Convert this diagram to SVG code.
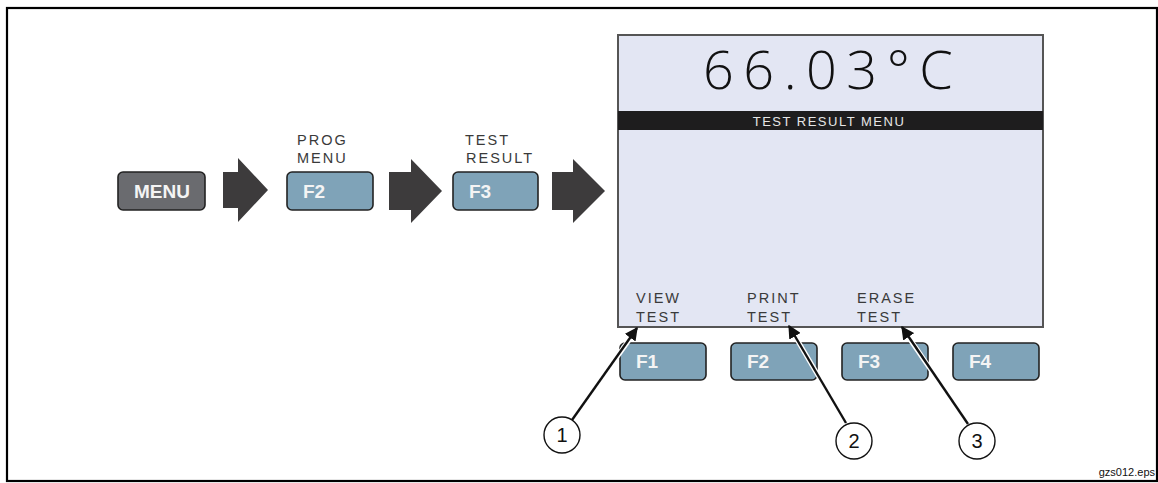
<svg xmlns="http://www.w3.org/2000/svg" width="1158" height="483" viewBox="0 0 1158 483">
<defs>
<style>
.frame{fill:none;stroke:#000;stroke-width:2.2}
.arrow{fill:#3d3b3c}
.key{stroke:#222;stroke-width:1.6}
.keyb{fill:#7fa3b8}
.keyg{fill:#6a6b6f}
.kt{font-family:"Liberation Sans",Arial,sans-serif;font-weight:bold;font-size:19px;fill:#f4f4f4}
.lbl{font-family:"Liberation Sans",Arial,sans-serif;font-size:14.5px;fill:#3a3a3a;letter-spacing:2px}
.num{font-family:"Liberation Sans",Arial,sans-serif;font-size:20px;fill:#111;text-anchor:middle}
.halo{stroke:#fff;stroke-width:5;fill:none}
.lead{stroke:#111;stroke-width:2.4;fill:none}
</style>
<marker id="ah" viewBox="0 0 10 10" refX="9" refY="5" markerWidth="5.5" markerHeight="5.5" orient="auto" markerUnits="strokeWidth">
<path d="M0,0 L10,5 L0,10 Z" fill="#111"/>
</marker>
</defs>
<rect width="1158" height="483" fill="#fff"/>
<rect class="frame" x="7" y="8" width="1150" height="473"/>
<text x="1155" y="476" font-family="Liberation Sans,Arial,sans-serif" font-size="11" text-anchor="end" fill="#111">gzs012.eps</text>

<g id="menu-key">
<rect class="key keyg" x="118" y="172" width="87" height="38" rx="5"/>
<text class="kt" x="134" y="198" font-size="18">MENU</text>
</g>
<g id="arrow1"><polygon class="arrow" points="223,172 238,172 238,158 268,190 238,222 238,208 223,208"/></g>
<g id="f2-prog">
<text class="lbl" x="297" y="145">PROG</text>
<text class="lbl" x="297" y="163">MENU</text>
<rect class="key keyb" x="287" y="172" width="86" height="38" rx="5"/>
<text class="kt" x="303" y="198">F2</text>
</g>
<g id="arrow2"><polygon class="arrow" points="389,172 411,172 411,159 442,191 411,223 411,210 389,210"/></g>
<g id="f3-test">
<text class="lbl" x="465" y="145">TEST</text>
<text class="lbl" x="466" y="163">RESULT</text>
<rect class="key keyb" x="453" y="172" width="85" height="38" rx="5"/>
<text class="kt" x="469" y="198">F3</text>
</g>
<g id="arrow3"><polygon class="arrow" points="552,172 573,172 573,159 605,191 573,223 573,210 552,210"/></g>

<g id="screen">
<rect x="618" y="35" width="425" height="292" fill="#e3e6f3" stroke="#555" stroke-width="2"/>
<text x="703" y="89" font-family="Open Sans,DejaVu Sans,sans-serif" font-weight="300" font-size="54" fill="#111" letter-spacing="9.5">66.03°C</text>
<rect x="618" y="111" width="425" height="19" fill="#1e1d1e"/>
<text x="829" y="126" font-family="Liberation Sans,Arial,sans-serif" font-size="13" fill="#e6e6e6" text-anchor="middle" letter-spacing="1.5">TEST RESULT MENU</text>
<text class="lbl" x="636" y="303">VIEW</text>
<text class="lbl" x="636" y="322">TEST</text>
<text class="lbl" x="747" y="303">PRINT</text>
<text class="lbl" x="747" y="322">TEST</text>
<text class="lbl" x="857" y="303">ERASE</text>
<text class="lbl" x="857" y="322">TEST</text>
</g>

<g id="f1"><rect class="key keyb" x="620" y="343" width="86" height="37" rx="5"/><text class="kt" x="636" y="368">F1</text></g>
<g id="f2"><rect class="key keyb" x="731" y="343" width="86" height="37" rx="5"/><text class="kt" x="747" y="368">F2</text></g>
<g id="f3"><rect class="key keyb" x="842" y="343" width="86" height="37" rx="5"/><text class="kt" x="858" y="368">F3</text></g>
<g id="f4"><rect class="key keyb" x="953" y="343" width="86" height="37" rx="5"/><text class="kt" x="969" y="368">F4</text></g>

<g id="connectors">
<line class="halo" x1="572" y1="420" x2="634" y2="333"/>
<line class="halo" x1="846" y1="423" x2="792" y2="331"/>
<line class="halo" x1="968" y1="424" x2="905" y2="332"/>
<line class="lead" x1="572" y1="420" x2="637" y2="328" marker-end="url(#ah)"/>
<line class="lead" x1="846" y1="423" x2="789" y2="326" marker-end="url(#ah)"/>
<line class="lead" x1="968" y1="424" x2="902" y2="327" marker-end="url(#ah)"/>
</g>

<g id="callout1"><circle cx="562" cy="435" r="18" fill="#fff" stroke="#111" stroke-width="1.4"/><text class="num" x="562" y="442">1</text></g>
<g id="callout2"><circle cx="854" cy="441" r="18" fill="#fff" stroke="#111" stroke-width="1.4"/><text class="num" x="854" y="448">2</text></g>
<g id="callout3"><circle cx="977" cy="441" r="18" fill="#fff" stroke="#111" stroke-width="1.4"/><text class="num" x="977" y="448">3</text></g>
</svg>
